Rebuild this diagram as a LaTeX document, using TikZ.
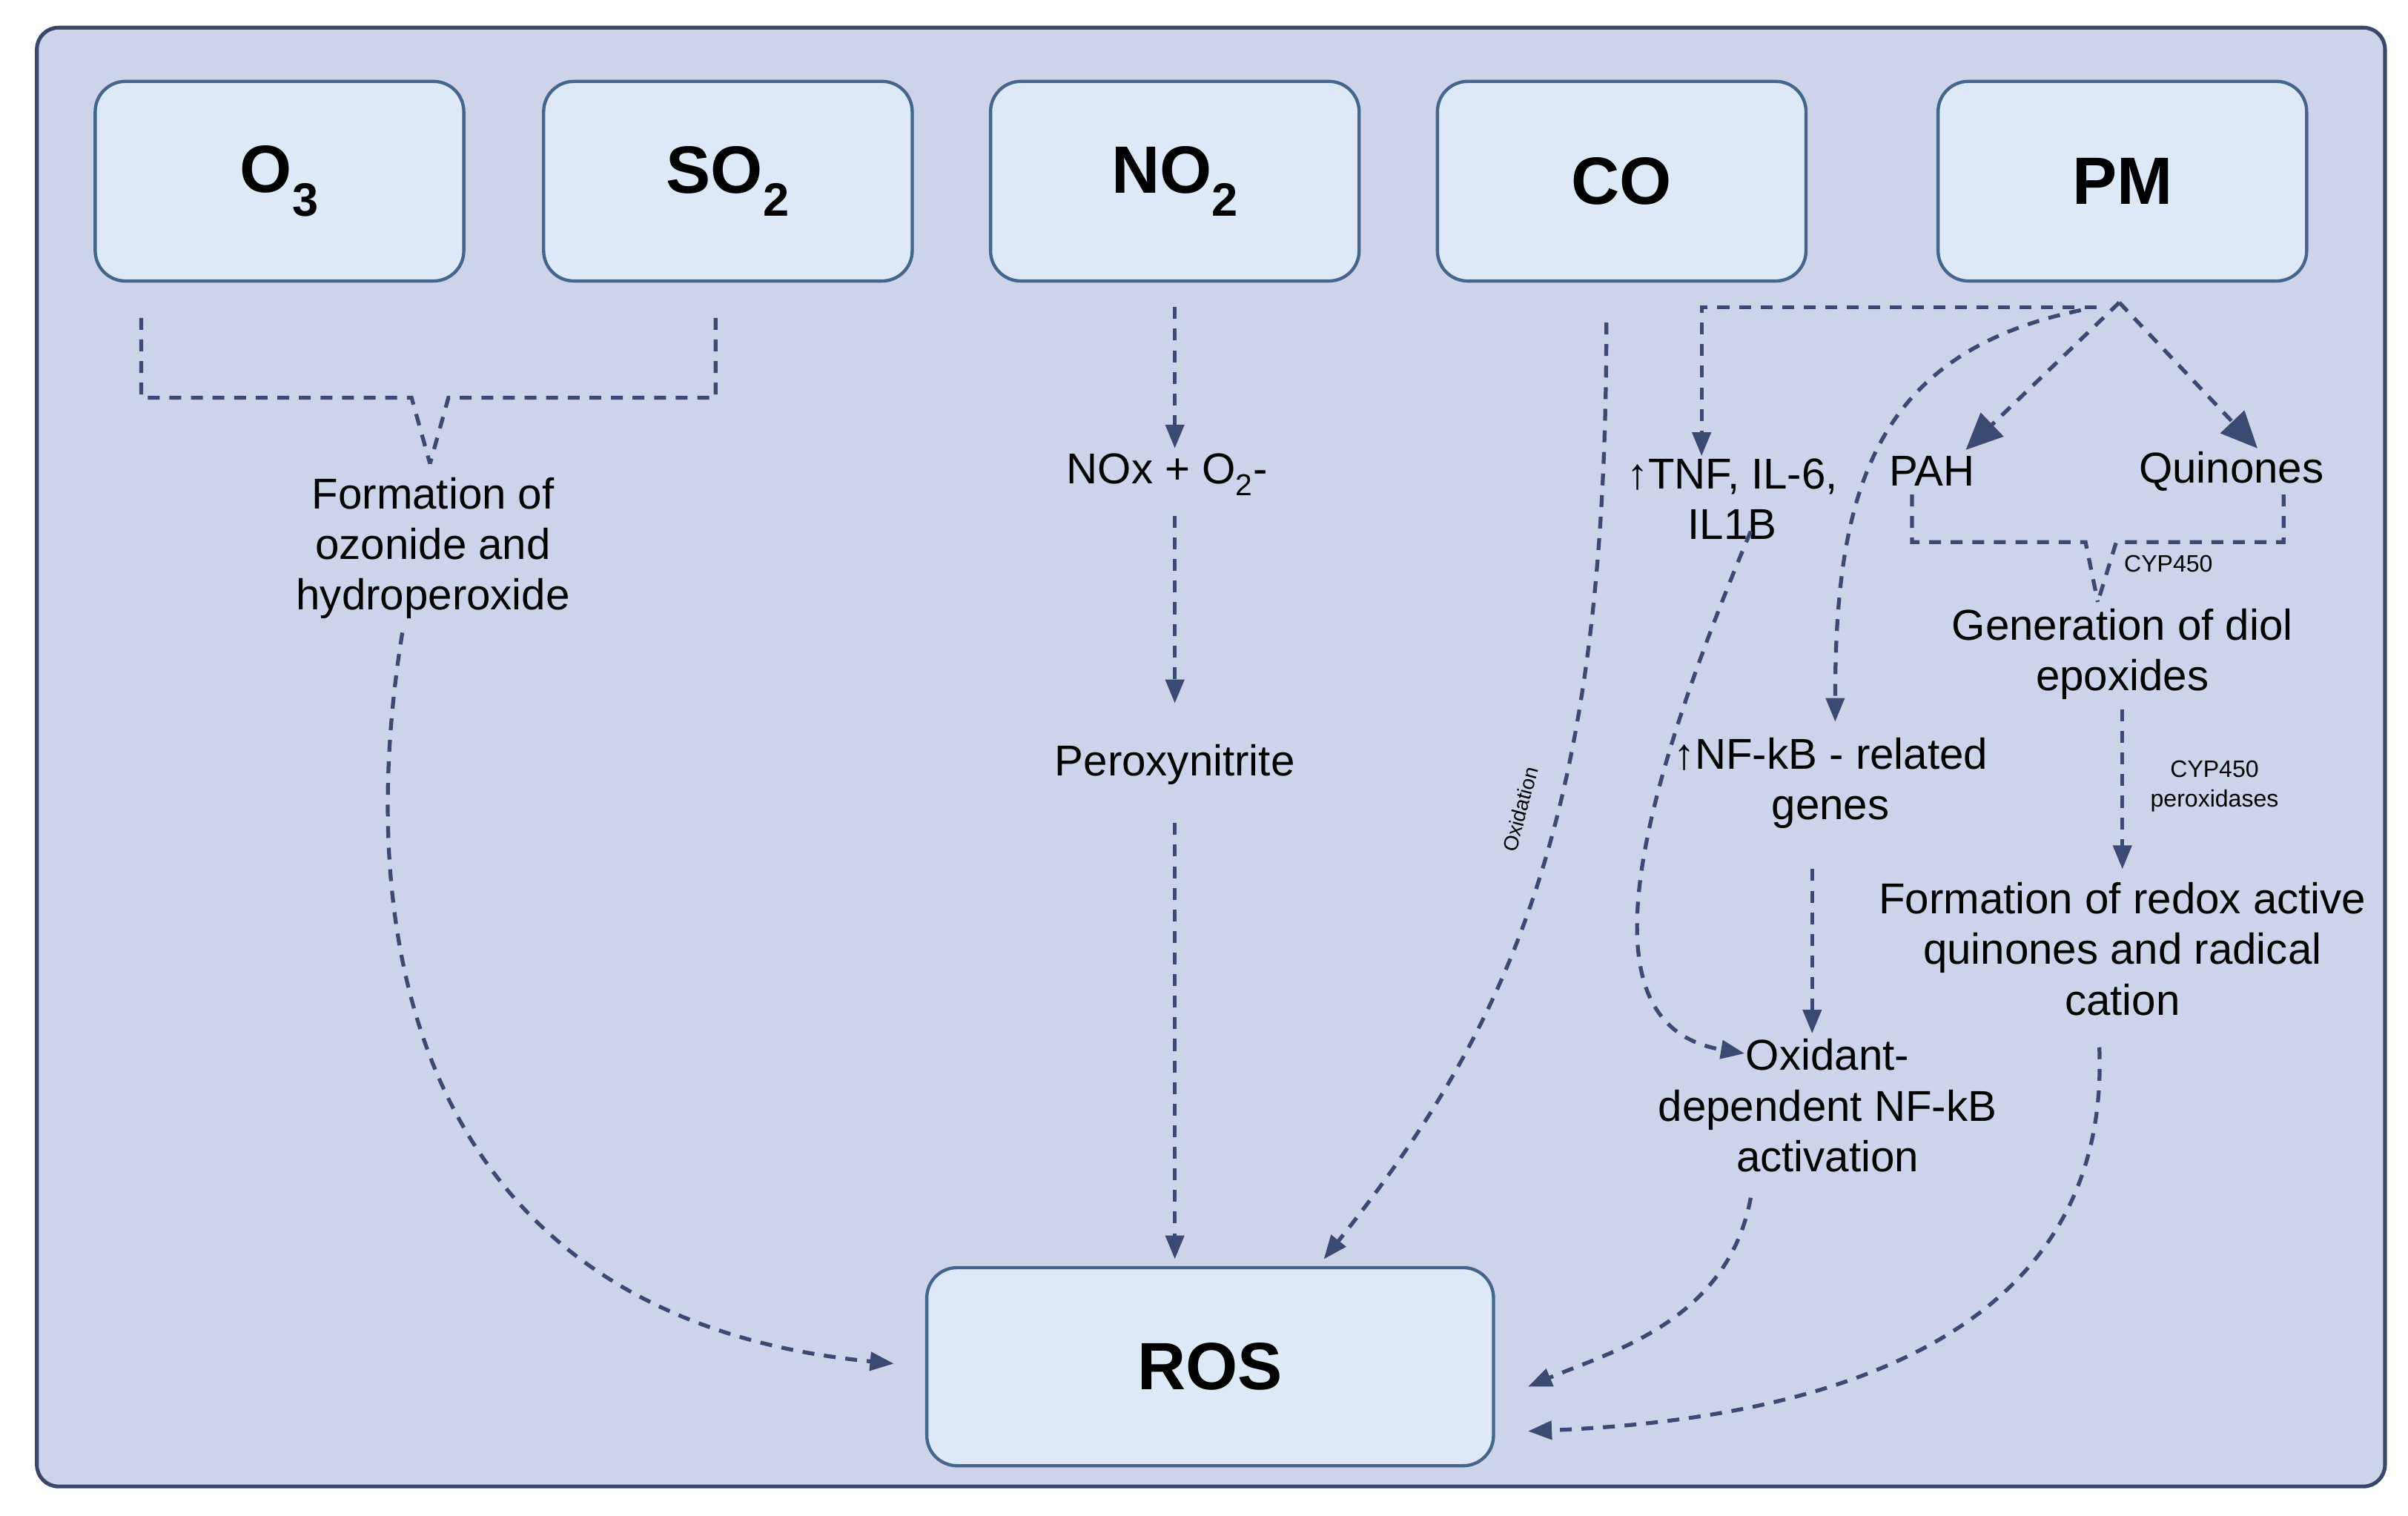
\documentclass[tikz,border=0pt]{standalone}
\usepackage{fontspec}
\setmainfont{Liberation Sans}
\usetikzlibrary{arrows.meta}
\definecolor{bg}{HTML}{CDD3E8}
\definecolor{frame}{HTML}{3A4768}
\definecolor{boxf}{HTML}{DDE9F7}
\definecolor{boxd}{HTML}{46658C}
\definecolor{ln}{HTML}{3B4A73}
\begin{document}
\begin{tikzpicture}[x=0.05cm,y=-0.05cm,
  src/.style={draw=boxd,fill=boxf,line width=3pt,rounded corners=28pt,font=\bfseries\fontsize{62}{70}\selectfont},
  txt/.style={align=center,font=\fontsize{40}{47}\selectfont,inner sep=2pt},
  sm/.style={align=center,font=\fontsize{22}{28}\selectfont,inner sep=1pt},
  con/.style={draw=ln,line width=3.6pt,dash pattern=on 11pt off 9pt},
  arr/.style={con,-{Triangle[length=22pt,width=17pt]}},
  big/.style={con,-{Triangle[length=34pt,width=30pt]}}]
\useasboundingbox (0,0) rectangle (1568,987);
\fill[white] (0,0) rectangle (1568,987);
\draw[frame,fill=bg,line width=3.5pt,rounded corners=20pt] (24,18) rectangle (1553,968);
% boxes
\node[src,minimum width=240*0.05cm,minimum height=130*0.05cm] (o3) at (182,118) {O\textsubscript{3}};
\node[src,minimum width=240*0.05cm,minimum height=130*0.05cm] (so2) at (474,118) {SO\textsubscript{2}};
\node[src,minimum width=240*0.05cm,minimum height=130*0.05cm] (no2) at (765,118) {NO\textsubscript{2}};
\node[src,minimum width=240*0.05cm,minimum height=130*0.05cm] (co) at (1056,118) {CO};
\node[src,minimum width=240*0.05cm,minimum height=130*0.05cm] (pm) at (1382,118) {PM};
\node[src,minimum width=369*0.05cm,minimum height=129*0.05cm] (ros) at (788,890) {ROS};
% texts
\node[txt] (form) at (282,357) {Formation of\\ozonide and\\hydroperoxide};
\node[txt] (nox) at (760,309) {NOx + O\textsubscript{2}-};
\node[txt] (perox) at (765,498) {Peroxynitrite};
\node[txt] (tnf) at (1128,325) {↑TNF, IL-6,\\IL1B};
\node[txt] (pah) at (1258,307) {PAH};
\node[txt] (quin) at (1453,307) {Quinones};
\node[txt] (diol) at (1382,426) {Generation of diol\\epoxides};
\node[txt] (redox) at (1382,618) {Formation of redox active\\quinones and radical\\cation};
\node[txt] (nfkb) at (1192,510) {↑NF-kB - related\\genes};
\node[txt] (oxd) at (1190,720) {Oxidant-\\dependent NF-kB\\activation};
\node[sm] (cyp1) at (1412,367) {CYP450};
\node[sm] (cyp2) at (1442,512) {CYP450\\peroxidases};
\node[sm,font=\fontsize{19}{22}\selectfont,rotate=75] (oxl) at (990,527) {Oxidation};
% O3 / SO2 bracket
\coordinate (v1) at (280,302);
\draw[con] (92,207) -- (92,259) -- (268,259) -- (v1);
\draw[con] (466,207) -- (466,259) -- (292,259) -- (v1);
\draw[arr] (262,412) .. controls (225,640) and (290,860) .. (582,888);
% NO2 chain
\draw[arr] (765,200) -- (765,292);
\draw[arr] (765,336) -- (765,458);
\draw[arr] (765,536) -- (765,820);
% CO
\draw[arr] (1046,210) .. controls (1046,520) and (990,660) .. (862,820);
% PM
\coordinate (pmo) at (1380,197);
\draw[arr] (1365,200) -- (1108,200) -- (1108,297);
\draw[arr] (1355,202) .. controls (1220,230) and (1195,320) .. (1195,470);
\draw[big] (pmo) -- (1280,293);
\draw[big] (pmo) -- (1470,292);
% PAH / Quinones bracket
\coordinate (v2) at (1366,392);
\draw[con] (1245,322) -- (1245,353) -- (1358,353) -- (v2);
\draw[con] (1487,322) -- (1487,353) -- (1378,353) -- (v2);
\draw[arr] (1382,462) -- (1382,566);
% NF-kB
\draw[arr] (1140,346) .. controls (1050,560) and (1040,670) .. (1136,686);
\draw[arr] (1180,566) -- (1180,673);
\draw[arr] (1140,780) .. controls (1125,860) and (1050,880) .. (995,903);
\draw[arr] (1367,682) .. controls (1375,880) and (1170,925) .. (995,932);
\end{tikzpicture}
\end{document}
